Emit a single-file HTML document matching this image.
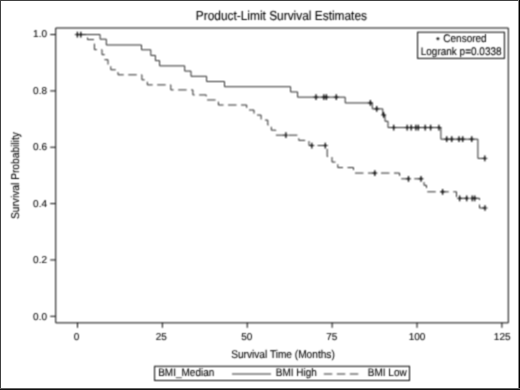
<!DOCTYPE html>
<html><head><meta charset="utf-8"><style>
html,body{margin:0;padding:0;background:#fff;width:520px;height:390px;overflow:hidden}
svg{display:block;font-family:"Liberation Sans",sans-serif;text-rendering:geometricPrecision}
</style></head><body>
<svg width="520" height="390" viewBox="0 0 520 390">
<rect x="0" y="0" width="520" height="390" fill="#fff"/>
<defs><filter id="b" x="0" y="0" width="520" height="390" filterUnits="userSpaceOnUse"><feConvolveMatrix order="3" kernelMatrix="0.0625 0.1250 0.0625 0.1250 0.2500 0.1250 0.0625 0.1250 0.0625" preserveAlpha="false" edgeMode="none"/></filter><filter id="t" x="0" y="0" width="520" height="390" filterUnits="userSpaceOnUse"><feConvolveMatrix order="3" kernelMatrix="0.0400 0.1200 0.0400 0.1200 0.3600 0.1200 0.0400 0.1200 0.0400" preserveAlpha="false" edgeMode="none"/></filter></defs>
<g filter="url(#b)">
<path d="M55.73,28.0H508.3V322.85H55.73Z" fill="none" stroke="#000" stroke-width="1.0"/>
<path d="M50.2,34.56H55.73M50.2,90.91H55.73M50.2,147.26H55.73M50.2,203.60H55.73M50.2,259.95H55.73M50.2,316.30H55.73M77.50,322.85V327.8M162.38,322.85V327.8M247.26,322.85V327.8M332.14,322.85V327.8M417.02,322.85V327.8M501.90,322.85V327.8" stroke="#000" stroke-width="1.0" fill="none"/>
<rect x="417.6" y="32.2" width="86.8" height="26.2" fill="none" stroke="#000" stroke-width="1.0"/>
<path d="M436.4,38.65h3M437.9,37.15v3" stroke="#000" stroke-width="1.1" fill="none"/>
<path d="M77.50,34.56H100.10V39.20H106.30V44.99H141.50V49.80H150.80V55.43H155.40V60.65H159.60V65.86H184.70V71.08H191.00V76.30H206.60V81.52H224.50V86.73H290.60V91.95H297.60V97.17H345.20V102.94H372.30V108.86H382.80V114.96H385.00V121.26H388.00V127.55H440.90V139.20H477.90V158.40H485.30" stroke="#000" stroke-width="0.85" fill="none"/>
<path d="M77.50,34.56H87.50V39.59H94.40V49.65H102.00V54.68H104.60V59.72H108.00V64.75H110.80V69.78H118.00V74.81H141.90V79.84H147.30V84.87H170.80V89.90H192.90V94.93H206.20V99.96H218.40V105.00H246.70V110.03H254.00V115.06H261.10V120.09H267.80V125.12H271.30V130.15H275.80V135.18H298.80V140.36H309.00V145.53H327.20V156.55H332.00V162.06H337.80V167.57H353.50V173.07H399.60V178.80H424.00V185.30H426.50V191.80H456.50V198.30H479.50V208.00H485.30" stroke="#000" stroke-width="0.85" fill="none" stroke-dasharray="8.5,4.5"/>
<path d="M74.80,34.56h5.20M78.20,34.56h5.20M313.40,97.17h5.20M321.30,97.17h5.20M323.80,97.17h5.20M333.70,97.17h5.20M367.80,102.94h5.20M374.10,108.86h5.20M381.00,114.96h5.20M391.10,127.55h5.20M404.60,127.55h5.20M408.60,127.55h5.20M413.30,127.55h5.20M415.70,127.55h5.20M422.60,127.55h5.20M428.00,127.55h5.20M436.30,127.55h5.20M444.10,139.20h5.20M449.10,139.20h5.20M456.40,139.20h5.20M460.10,139.20h5.20M469.10,139.20h5.20M482.20,158.40h5.20M283.30,135.18h5.20M309.20,145.53h5.20M322.70,145.53h5.20M372.20,173.07h5.20M405.90,178.80h5.20M418.40,178.80h5.20M440.00,191.80h5.20M457.00,198.30h5.20M464.10,198.30h5.20M469.70,198.30h5.20M472.10,198.30h5.20M482.40,208.00h5.20" stroke="#000" stroke-width="0.85" fill="none"/>
<path d="M77.40,31.71v5.70M80.80,31.71v5.70M316.00,94.32v5.70M323.90,94.32v5.70M326.40,94.32v5.70M336.30,94.32v5.70M370.40,100.09v5.70M376.70,106.01v5.70M383.60,112.11v5.70M393.70,124.70v5.70M407.20,124.70v5.70M411.20,124.70v5.70M415.90,124.70v5.70M418.30,124.70v5.70M425.20,124.70v5.70M430.60,124.70v5.70M438.90,124.70v5.70M446.70,136.35v5.70M451.70,136.35v5.70M459.00,136.35v5.70M462.70,136.35v5.70M471.70,136.35v5.70M484.80,155.55v5.70M285.90,132.33v5.70M311.80,142.68v5.70M325.30,142.68v5.70M374.80,170.22v5.70M408.50,175.95v5.70M421.00,175.95v5.70M442.60,188.95v5.70M459.60,195.45v5.70M466.70,195.45v5.70M472.30,195.45v5.70M474.70,195.45v5.70M485.00,205.15v5.70" stroke="#000" stroke-width="1.3" fill="none"/>
<rect x="154.6" y="366.3" width="254.9" height="14.2" fill="none" stroke="#000" stroke-width="1.0"/>
<path d="M232,374H271" stroke="#000" stroke-width="0.85"/>
<path d="M323.8,374H360" stroke="#000" stroke-width="0.85" stroke-dasharray="8.5,4.5"/>
</g>
<g filter="url(#t)">
<text transform="translate(281.40,20.30) scale(1,1.1)" font-size="11.9" text-anchor="middle" fill="#000" stroke="#000" stroke-width="0.1">Product-Limit Survival Estimates</text>
<text transform="translate(47.00,37.23) scale(1,1.0)" font-size="10" text-anchor="end" fill="#000" stroke="#000" stroke-width="0.1">1.0</text>
<text transform="translate(47.00,94.23) scale(1,1.0)" font-size="10" text-anchor="end" fill="#000" stroke="#000" stroke-width="0.1">0.8</text>
<text transform="translate(47.00,150.23) scale(1,1.0)" font-size="10" text-anchor="end" fill="#000" stroke="#000" stroke-width="0.1">0.6</text>
<text transform="translate(47.00,206.53) scale(1,1.0)" font-size="10" text-anchor="end" fill="#000" stroke="#000" stroke-width="0.1">0.4</text>
<text transform="translate(47.00,262.58) scale(1,1.0)" font-size="10" text-anchor="end" fill="#000" stroke="#000" stroke-width="0.1">0.2</text>
<text transform="translate(47.00,319.53) scale(1,1.0)" font-size="10" text-anchor="end" fill="#000" stroke="#000" stroke-width="0.1">0.0</text>
<text transform="translate(76.65,340.20) scale(1,1.0)" font-size="10" text-anchor="middle" fill="#000" stroke="#000" stroke-width="0.1">0</text>
<text transform="translate(161.35,340.20) scale(1,1.0)" font-size="10" text-anchor="middle" fill="#000" stroke="#000" stroke-width="0.1">25</text>
<text transform="translate(246.85,340.20) scale(1,1.0)" font-size="10" text-anchor="middle" fill="#000" stroke="#000" stroke-width="0.1">50</text>
<text transform="translate(331.80,340.20) scale(1,1.0)" font-size="10" text-anchor="middle" fill="#000" stroke="#000" stroke-width="0.1">75</text>
<text transform="translate(417.00,340.20) scale(1,1.0)" font-size="10" text-anchor="middle" fill="#000" stroke="#000" stroke-width="0.1">100</text>
<text transform="translate(502.20,340.20) scale(1,1.0)" font-size="10" text-anchor="middle" fill="#000" stroke="#000" stroke-width="0.1">125</text>
<text transform="translate(283.00,358.20) scale(1,1.1)" font-size="10.15" text-anchor="middle" fill="#000" stroke="#000" stroke-width="0.1">Survival Time (Months)</text>
<text transform="translate(18.90,175.60) rotate(-90) scale(1,1.1)" font-size="10.22" text-anchor="middle" fill="#000" stroke="#000" stroke-width="0.1">Survival Probability</text>
<text transform="translate(443.30,42.30) scale(1,1.1)" font-size="10" fill="#000" stroke="#000" stroke-width="0.1">Censored</text>
<text transform="translate(420.70,55.40) scale(1,1.1)" font-size="10" fill="#000" stroke="#000" stroke-width="0.1">Logrank p=0.0338</text>
<text transform="translate(158.20,376.40) scale(1,1.1)" font-size="10" fill="#000" stroke="#000" stroke-width="0.1">BMI_Median</text>
<text transform="translate(275.80,376.40) scale(1,1.1)" font-size="10" fill="#000" stroke="#000" stroke-width="0.1">BMI High</text>
<text transform="translate(367.80,376.40) scale(1,1.1)" font-size="10" fill="#000" stroke="#000" stroke-width="0.1">BMI Low</text>
</g>
<rect x="0" y="0" width="520" height="1" fill="#404040"/>
<rect x="0" y="0" width="1" height="390" fill="#404040"/>
<rect x="518" y="0" width="1" height="390" fill="#888"/>
<rect x="519" y="0" width="1" height="390" fill="#000"/>
<rect x="0" y="388" width="520" height="1" fill="#666"/>
<rect x="0" y="389" width="520" height="1" fill="#111"/>
</svg>
</body></html>
